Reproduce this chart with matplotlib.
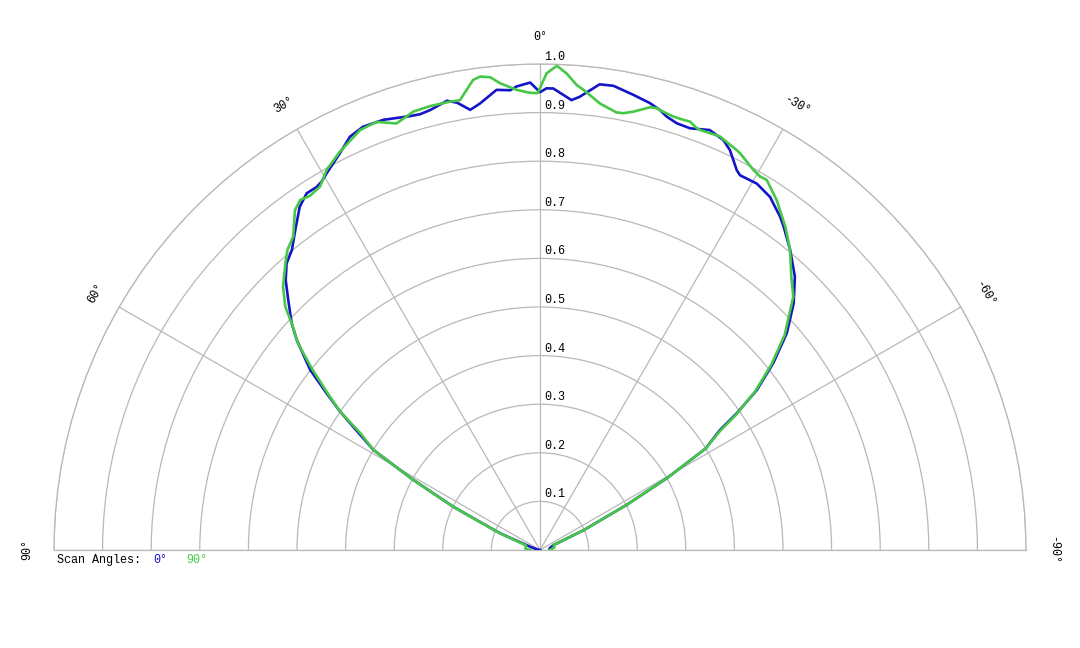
import numpy as np
import matplotlib
matplotlib.use("Agg")
import matplotlib.pyplot as plt

# scan 0 deg (blue): angle in degrees (+ = left), relative level
ang_0 = [90, 80, 72, 67.3, 63.5, 61.0, 59.0, 56.6, 55.3, 53.7, 51.9, 49.2, 47.6,
         45.2, 43.3, 41.5, 39.6, 37.4, 35.0, 33.2, 31.6, 30.7, 29.5, 26.8, 24.7,
         22.7, 20.0, 16.7, 15.4, 14.0, 11.7, 10.5, 9.0, 7.65, 5.4, 3.7, 2.9, 1.2,
         0.0, -0.8, -1.65, -4.0, -5.0, -7.3, -9.0, -11.6, -13.8, -15.3, -16.3,
         -17.8, -19.6, -22.0, -24.1, -25.4, -27.4, -28.1, -30.6, -33.1, -33.9,
         -35.8, -37.0, -39.8, -43.0, -45.8, -48.7, -51.3, -53.6, -55.2, -56.3,
         -58.5, -60.5, -62.5, -65.5, -70, -80, -90]
lvl_0 = [0.0, 0.005, 0.02, 0.089, 0.199, 0.30, 0.40, 0.46, 0.50, 0.545, 0.601, 0.661, 0.692,
         0.730, 0.763, 0.787, 0.801, 0.829, 0.862, 0.877, 0.877, 0.881, 0.891, 0.914, 0.936,
         0.944, 0.942, 0.932, 0.930, 0.933, 0.944, 0.936, 0.917, 0.927, 0.951, 0.948, 0.955, 0.962,
         0.942, 0.950, 0.950, 0.928, 0.936, 0.966, 0.967, 0.956, 0.947, 0.938, 0.929,
         0.922, 0.921, 0.932, 0.924, 0.911, 0.880, 0.874, 0.876, 0.867, 0.860,
         0.845, 0.833, 0.804, 0.769, 0.728, 0.676, 0.615, 0.554, 0.493, 0.445,
         0.40, 0.30, 0.20, 0.10, 0.03, 0.02, 0.02]

# scan 90 deg (green)
ang_90 = [90, 86, 80, 72, 67.3, 63.5, 61.0, 59.0, 57.0, 55.3, 53.7, 51.5, 49.5, 47.6,
          46.3, 44.3, 41.6, 40.1, 38.2, 35.8, 34.4, 33.0, 31.2, 29.3, 26.7, 23.2, 20.9,
          18.6, 16.1, 13.9, 11.4, 10.1, 8.1, 7.2, 6.0, 4.9, 2.9, 1.25, 0.3, -0.8, -2.0,
          -3.2, -4.5, -5.4, -7.65, -9.9, -10.8, -12.0, -14.0, -14.8, -15.3, -17.1, -18.4,
          -19.3, -20.4, -20.9, -23.5, -26.2, -26.8, -29.3, -30.5, -31.5, -34.1, -37.2,
          -39.8, -42.6, -45.0, -48.7, -51.3, -53.6, -55.4, -56.5, -58.5, -60.5, -62.5,
          -65.5, -70, -80, -90]
lvl_90 = [0.02, 0.03, 0.03, 0.03, 0.09, 0.20, 0.30, 0.40, 0.44, 0.50, 0.54, 0.600, 0.655, 0.692,
          0.725, 0.757, 0.789, 0.807, 0.821, 0.862, 0.873, 0.869, 0.874, 0.897, 0.917, 0.940, 0.943,
          0.926, 0.939, 0.941, 0.941, 0.940, 0.977, 0.982, 0.978, 0.964, 0.948, 0.941, 0.940, 0.981, 0.997,
          0.982, 0.960, 0.951, 0.927, 0.914, 0.915, 0.922, 0.939, 0.940, 0.938, 0.933, 0.933,
          0.934, 0.926, 0.925, 0.928, 0.917, 0.914, 0.897, 0.892, 0.893, 0.869, 0.835,
          0.804, 0.764, 0.737, 0.670, 0.610, 0.550, 0.490, 0.445, 0.40, 0.30, 0.20,
          0.10, 0.03, 0.03, 0.02]

rings = [0.1, 0.2, 0.3, 0.4, 0.5, 0.6, 0.7, 0.8, 0.9, 1.0]
spokes = [-90, -60, -30, 0, 30, 60, 90]

blue = "#1414c8"
green = "#46c846"
grey = "#b8b8b8"
mono = "Liberation Mono"
fs = 8.5

fig = plt.figure(figsize=(10.8, 6.48), dpi=100)
# the half-wedge sits centred in a square box; centre of the plot at (540, 550) px, radius 486 px
ax = fig.add_axes([54 / 1080, -145 / 648, 972 / 1080, 972 / 648], projection="polar")
ax.set_theta_zero_location("N")
ax.set_thetamin(-90)
ax.set_thetamax(90)
ax.set_ylim(0, 1.0)
ax.patch.set_visible(False)

ax.set_rgrids(rings, labels=[""] * len(rings))
ax.set_thetagrids(spokes, labels=[""] * len(spokes))
ax.grid(True, color=grey, lw=0.9)
for s in ax.spines.values():
    s.set_color(grey)
    s.set_linewidth(0.9)

ax.plot(np.radians(ang_0), lvl_0, color=blue, lw=1.9, zorder=3,
        solid_joinstyle="round")
ax.plot(np.radians(ang_90), lvl_90, color=green, lw=1.9, zorder=4,
        solid_joinstyle="round")

# ring labels
for r in rings:
    ax.annotate("%.1f" % r, xy=(0, r), xytext=(3, 5), textcoords="offset points",
                ha="left", va="center", fontsize=fs, family=mono)

# angle labels
for a in spokes:
    lbl = "%d\u00b0" % a
    ax.text(np.radians(a), 1.056, lbl, rotation=a, ha="center", va="center",
            fontsize=fs, family=mono, clip_on=False)

# legend text
fig.text(57 / 1080, 1 - 560 / 648, "Scan Angles:", fontsize=fs, family=mono,
         ha="left", va="center")
fig.text(153 / 1080, 1 - 560 / 648, "0\u00b0", fontsize=fs, family=mono,
         color=blue, ha="left", va="center")
fig.text(186 / 1080, 1 - 560 / 648, "90\u00b0", fontsize=fs, family=mono,
         color=green, ha="left", va="center")

fig.savefig("out.png", dpi=100)
